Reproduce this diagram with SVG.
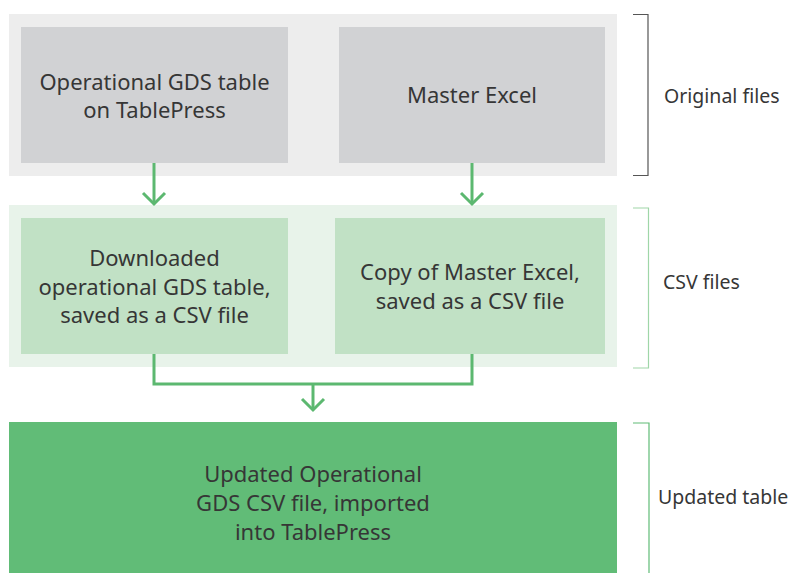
<svg xmlns="http://www.w3.org/2000/svg" width="791" height="573" viewBox="0 0 791 573">
<style>
text{font-family:"Noto Sans","Liberation Sans",sans-serif;font-size:22px;fill:#363636;text-anchor:middle}
.side{text-anchor:start;font-size:19.5px}
.conn{fill:none;stroke:#5cb870;stroke-width:3}
</style>
<rect width="791" height="573" fill="#fff"/>
<g id="group-original">
<rect x="9" y="14" width="608" height="162" fill="#ededed"/>
<polyline points="633,14.5 648,14.5 648,175.5 633,175.5" fill="none" stroke="#555" stroke-width="1.2"/>
<text class="side" x="664" y="103">Original files</text>
</g>
<g id="group-csv">
<rect x="9" y="205" width="608" height="162" fill="#e8f3ea"/>
<polyline points="633,208 648.5,208 648.5,368 633,368" fill="none" stroke="#9fd6a8" stroke-width="1.2"/>
<text class="side" x="663" y="289">CSV files</text>
</g>
<g id="node-operational">
<rect x="21" y="27" width="267" height="136" fill="#d1d2d4"/>
<text x="154.5" y="90">Operational GDS table</text>
<text x="154.5" y="118">on TablePress</text>
</g>
<g id="node-master">
<rect x="339" y="27" width="266" height="136" fill="#d1d2d4"/>
<text x="472" y="103">Master Excel</text>
</g>
<g id="node-downloaded">
<rect x="21" y="218" width="267" height="136" fill="#c1e1c5"/>
<text x="154.5" y="266">Downloaded</text>
<text x="154.5" y="295">operational GDS table,</text>
<text x="154.5" y="323">saved as a CSV file</text>
</g>
<g id="node-copy">
<rect x="335" y="218" width="270" height="136" fill="#c1e1c5"/>
<text x="470" y="280">Copy of Master Excel,</text>
<text x="470" y="309">saved as a CSV file</text>
</g>
<g id="node-updated">
<rect x="9" y="422" width="608" height="151" fill="#61bc77"/>
<text x="313" y="482">Updated Operational</text>
<text x="313" y="511">GDS CSV file, imported</text>
<text x="313" y="540">into TablePress</text>
<polyline points="633,423 649,423 649,573" fill="none" stroke="#61bc77" stroke-width="1.2"/>
<text class="side" x="658" y="504">Updated table</text>
</g>
<g id="connectors">
<line class="conn" x1="154" y1="163" x2="154" y2="204"/>
<polyline class="conn" points="143,193 154,204 165,193"/>
<line class="conn" x1="472" y1="163" x2="472" y2="204"/>
<polyline class="conn" points="461,193 472,204 483,193"/>
<polyline class="conn" points="154,354 154,384 472,384 472,354"/>
<line class="conn" x1="313" y1="384" x2="313" y2="410"/>
<polyline class="conn" points="302,399 313,410 324,399"/>
</g>
</svg>
